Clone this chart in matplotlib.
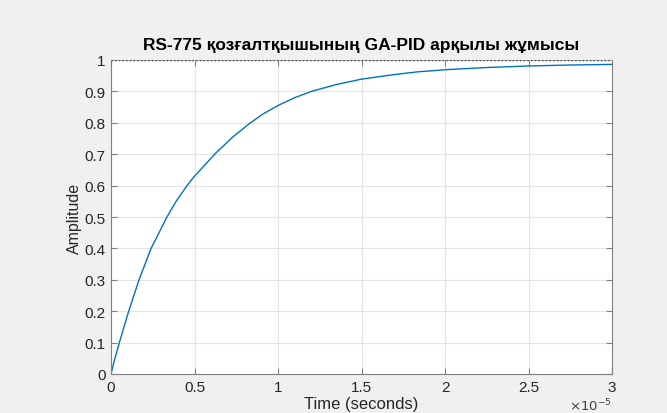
import matplotlib.pyplot as plt
from matplotlib.ticker import FuncFormatter

# step response (time in units of 1e-5 s)
time_e5 = [0, 0.02, 0.05, 0.106, 0.168, 0.24, 0.335, 0.39, 0.455, 0.5, 0.63, 0.73,
           0.83, 0.91, 1.0, 1.1, 1.2, 1.35, 1.5, 1.674, 1.83, 2.0, 2.25, 2.5, 2.75, 3.0]
amplitude = [0, 0.043, 0.1, 0.2, 0.3, 0.4, 0.5, 0.55, 0.6, 0.63, 0.705, 0.755,
             0.798, 0.828, 0.855, 0.88, 0.9, 0.922, 0.939, 0.952, 0.962, 0.969,
             0.976, 0.981, 0.984, 0.986]
steady_value = 1.0

x_ticks = [0, 0.5, 1, 1.5, 2, 2.5, 3]
y_ticks = [0, 0.1, 0.2, 0.3, 0.4, 0.5, 0.6, 0.7, 0.8, 0.9, 1]

plt.rcParams['font.family'] = ['Liberation Sans', 'DejaVu Sans']

fig = plt.figure(figsize=(6.67, 4.14), dpi=100, facecolor='#f0f0f0')
ax = fig.add_axes([111 / 667, 1 - 375 / 414, (612 - 111) / 667, (375 - 61) / 414])
ax.set_facecolor('white')

ax.plot(time_e5, amplitude, color='#0072BD', lw=1.0)
ax.axhline(steady_value, color='#404040', lw=1.0, ls=':', zorder=5)

ax.set_xlim(0, 3)
ax.set_ylim(0, 1)
ax.set_xticks(x_ticks)
ax.set_yticks(y_ticks)
fmt = FuncFormatter(lambda v, p: '%g' % v)
ax.xaxis.set_major_formatter(fmt)
ax.yaxis.set_major_formatter(fmt)

ax.grid(True, color='#e3e3e3', lw=0.8)
ax.set_axisbelow(True)
ax.tick_params(direction='in', top=True, right=True, length=4, width=0.8,
               colors='#808080', labelcolor='#262626', labelsize=11, pad=4)
for s in ax.spines.values():
    s.set_color('#808080')
    s.set_linewidth(0.8)
ax.spines['top'].set_color('#b0b0b0')

ax.set_title('RS-775 қозғалтқышының GA-PID арқылы жұмысы', fontsize=12.5,
             fontweight='bold', color='black', pad=8)
ax.set_xlabel('Time (seconds)', fontsize=12, color='#262626', labelpad=2)
ax.set_ylabel('Amplitude', fontsize=11.5, color='#262626', labelpad=2)
ax.text(1.0, -0.072, r'$\times10^{-5}$', transform=ax.transAxes, fontsize=9.5,
        color='#404040', ha='right', va='top')

fig.savefig('out.png', dpi=100, facecolor=fig.get_facecolor())
